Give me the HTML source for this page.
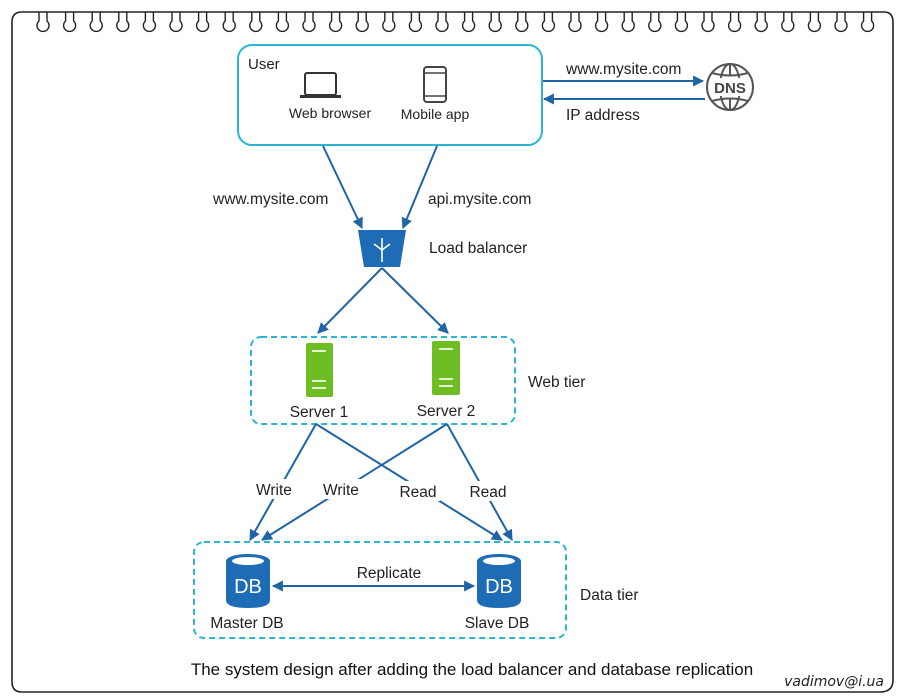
<!DOCTYPE html>
<html><head><meta charset="utf-8"><style>
body{margin:0;background:#fff;}
svg{display:block;font-family:"Liberation Sans",Arial,sans-serif;}
</style></head><body>
<svg id="s" width="900" height="700" viewBox="0 0 900 700" xmlns="http://www.w3.org/2000/svg">
<defs>
<marker id="a" viewBox="0 0 10 10" refX="9" refY="5" markerWidth="11" markerHeight="11" markerUnits="userSpaceOnUse" orient="auto-start-reverse"><path d="M0,0 L10,5 L0,10 z" fill="#1f64a5"/></marker>
<marker id="b" viewBox="0 0 10 10" refX="9" refY="5" markerWidth="11" markerHeight="11" markerUnits="userSpaceOnUse" orient="auto-start-reverse"><path d="M0,0 L10,5 L0,10 z" fill="#1f64a5"/></marker>
</defs>
<rect width="900" height="700" fill="#fff"/>
<path d="M22,12 H884 Q893,12 893,22 V680 Q893,692 880,692 H22 Q12,692 12,682 V22 Q12,12 22,12" fill="none" stroke="#222" stroke-width="1.6"/>
<g id="loops" fill="none" stroke="#222" stroke-width="1.4"></g>

<rect x="238" y="45" width="304" height="100" rx="14" fill="#fff" stroke="#2bb5d0" stroke-width="2"/>
<text x="248" y="69" font-size="15" fill="#222">User</text>
<rect x="305" y="73" width="31" height="22" rx="2" fill="none" stroke="#333" stroke-width="2"/>
<rect x="300" y="95" width="41" height="3" fill="#333"/>
<rect x="424" y="67" width="22" height="35" rx="3" fill="none" stroke="#444" stroke-width="2"/>
<line x1="424" y1="73" x2="446" y2="73" stroke="#444" stroke-width="1.5"/>
<line x1="424" y1="96" x2="446" y2="96" stroke="#444" stroke-width="1.5"/>
<text x="330" y="118" font-size="14" text-anchor="middle" fill="#222">Web browser</text>
<text x="435" y="119" font-size="14" text-anchor="middle" fill="#222">Mobile app</text>

<line x1="543" y1="81" x2="703" y2="81" stroke="#1f64a5" stroke-width="2" marker-end="url(#b)"/>
<line x1="705" y1="99" x2="544" y2="99" stroke="#1f64a5" stroke-width="2" marker-end="url(#b)"/>
<text x="566" y="74" font-size="15.5" fill="#222">www.mysite.com</text>
<text x="566" y="120" font-size="15.5" fill="#222">IP address</text>
<g fill="none" stroke="#555" stroke-width="2">
<circle cx="730" cy="87" r="23"/>
<ellipse cx="730" cy="87" rx="10" ry="23"/>
<line x1="730" y1="64" x2="730" y2="76"/><line x1="730" y1="98" x2="730" y2="110"/>
<path d="M712,73 Q730,78 748,73 M712,101 Q730,96 748,101"/>
</g>
<rect x="710" y="78" width="40" height="18" fill="#fff"/>
<text x="730" y="93" font-size="15" font-weight="bold" text-anchor="middle" fill="#444">DNS</text>

<line x1="323" y1="146" x2="362" y2="228" stroke="#1f64a5" stroke-width="2" marker-end="url(#b)"/>
<line x1="437" y1="146" x2="403" y2="228" stroke="#1f64a5" stroke-width="2" marker-end="url(#b)"/>
<text x="213" y="204" font-size="15.5" fill="#222">www.mysite.com</text>
<text x="428" y="204" font-size="15.5" fill="#222">api.mysite.com</text>
<path d="M358,230 H406 L400,267 H364 Z" fill="#1d6cb5"/>
<g stroke="#fff" stroke-width="1.6" fill="none"><line x1="382" y1="238" x2="382" y2="262"/><line x1="382" y1="250" x2="374" y2="244"/><line x1="382" y1="250" x2="390" y2="244"/></g>
<text x="429" y="253" font-size="15.5" fill="#222">Load balancer</text>

<line x1="382" y1="268" x2="318" y2="333" stroke="#1f64a5" stroke-width="2" marker-end="url(#b)"/>
<line x1="382" y1="268" x2="448" y2="333" stroke="#1f64a5" stroke-width="2" marker-end="url(#b)"/>

<rect x="251" y="337" width="264" height="87" rx="10" fill="none" stroke="#2bb5d0" stroke-width="2" stroke-dasharray="6,4"/>
<rect x="306" y="343" width="27" height="54" rx="2" fill="#6fbd24"/>
<rect x="432" y="341" width="28" height="54" rx="2" fill="#6fbd24"/>
<g stroke="#fff" stroke-width="1.6"><line x1="312" y1="351" x2="326" y2="351"/><line x1="312" y1="381" x2="326" y2="381"/><line x1="312" y1="388" x2="326" y2="388"/>
<line x1="439" y1="349" x2="453" y2="349"/><line x1="439" y1="379" x2="453" y2="379"/><line x1="439" y1="386" x2="453" y2="386"/></g>
<text x="319" y="417" font-size="15.5" text-anchor="middle" fill="#222">Server 1</text>
<text x="446" y="416" font-size="15.5" text-anchor="middle" fill="#222">Server 2</text>
<text x="528" y="387" font-size="15.5" fill="#222">Web tier</text>

<g stroke="#1f64a5" stroke-width="2" fill="none">
<path d="M316,424 L250,540" marker-end="url(#b)"/>
<path d="M316,424 L502,540" marker-end="url(#b)"/>
<path d="M447,424 L262,540" marker-end="url(#b)"/>
<path d="M447,424 L512,540" marker-end="url(#b)"/>
</g>
<g font-size="15.5" fill="#222" text-anchor="middle">
<rect x="252" y="479" width="44" height="20" fill="#fff"/><text x="274" y="495">Write</text>
<rect x="319" y="479" width="44" height="20" fill="#fff"/><text x="341" y="495">Write</text>
<rect x="396" y="481" width="44" height="20" fill="#fff"/><text x="418" y="497">Read</text>
<rect x="466" y="481" width="44" height="20" fill="#fff"/><text x="488" y="497">Read</text>
</g>

<rect x="194" y="542" width="372" height="96" rx="10" fill="none" stroke="#2bb5d0" stroke-width="2" stroke-dasharray="6,4"/>
<path d="M226,561 V600 Q226,608 248,608 Q270,608 270,600 V561 Z" fill="#1d6cb5"/>
<ellipse cx="248" cy="561" rx="22" ry="7" fill="#1d6cb5"/>
<ellipse cx="248" cy="561" rx="16" ry="4" fill="#fff"/>
<text x="248" y="593" font-size="20" text-anchor="middle" fill="#fff">DB</text>
<path d="M477,561 V600 Q477,608 499,608 Q521,608 521,600 V561 Z" fill="#1d6cb5"/>
<ellipse cx="499" cy="561" rx="22" ry="7" fill="#1d6cb5"/>
<ellipse cx="499" cy="561" rx="16" ry="4" fill="#fff"/>
<text x="499" y="593" font-size="20" text-anchor="middle" fill="#fff">DB</text>
<line x1="273" y1="586" x2="474" y2="586" stroke="#1f64a5" stroke-width="2" marker-start="url(#a)" marker-end="url(#a)"/>
<text x="389" y="578" font-size="15.5" text-anchor="middle" fill="#222">Replicate</text>
<text x="247" y="628" font-size="15.5" text-anchor="middle" fill="#222">Master DB</text>
<text x="497" y="628" font-size="15.5" text-anchor="middle" fill="#222">Slave DB</text>
<text x="580" y="600" font-size="15.5" fill="#222">Data tier</text>

<text x="472" y="675" font-size="17" text-anchor="middle" fill="#111">The system design after adding the load balancer and database replication</text>
<text x="884" y="686" font-size="14" font-style="italic" text-anchor="end" fill="#222" font-family="DejaVu Sans, sans-serif">vadimov@i.ua</text>
</svg>
<script>
var g=document.getElementById('loops'),h='';
for(var i=0;i<32;i++){var x=43+i*26.6;h+='<path d="M'+(x-4)+',12 v9 a6,6 0 1 0 8,0 v-9"/>';}
g.innerHTML=h;
</script>
</body></html>
